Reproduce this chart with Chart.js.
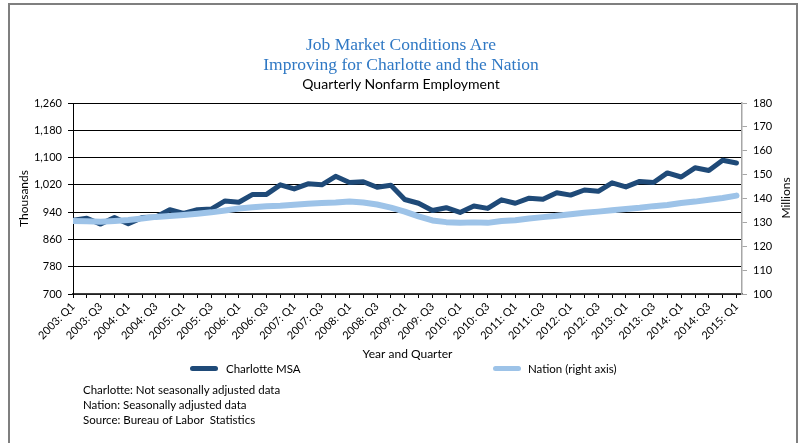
<!DOCTYPE html>
<html><head><meta charset="utf-8">
<script src="https://cdn.jsdelivr.net/npm/chart.js@4.4.1/dist/chart.umd.min.js"></script>
<style>
html,body{margin:0;padding:0;background:#fff;}
#wrap{position:relative;width:802px;height:443px;overflow:hidden;background:#fff;}
#frame{position:absolute;left:8px;top:3px;width:790px;height:470px;border:2px solid #7f7f7f;border-bottom:none;box-sizing:border-box;}
#c{position:absolute;left:0;top:0;}
.title{position:absolute;left:0;width:802px;text-align:center;font-family:"Liberation Serif",serif;color:#2f78c4;font-size:17.5px;line-height:20px;white-space:nowrap;}
.sub{position:absolute;left:0;width:802px;text-align:center;font-family:Lato,sans-serif;color:#000;font-size:14px;line-height:18px;}
.lab{position:absolute;font-family:Lato,sans-serif;color:#000;font-size:11.5px;line-height:16px;white-space:nowrap;}
.sw{position:absolute;height:5px;border-radius:3px;}
#mil{position:absolute;left:760px;top:190px;width:52px;text-align:center;transform:rotate(-90deg);font-family:Lato,sans-serif;font-size:12px;line-height:16px;}
</style></head>
<body>
<div id="wrap">
<div id="frame"></div>
<canvas id="c" width="802" height="443"></canvas>
<div class="title" style="top:34px">Job Market Conditions Are</div>
<div class="title" style="top:54px">Improving for Charlotte and the Nation</div>
<div class="sub" style="top:75px">Quarterly Nonfarm Employment</div>
<div id="mil">Millions</div>
<div id="legend"></div>
<div class="lab" style="left:83px;top:382px">Charlotte: Not seasonally adjusted data</div>
<div class="lab" style="left:83px;top:397px">Nation: Seasonally adjusted data</div>
<div class="lab" style="left:83px;top:412px">Source: Bureau of Labor&nbsp; Statistics</div>
</div>
<script>
const quarters = ["2003: Q1","2003: Q2","2003: Q3","2003: Q4","2004: Q1","2004: Q2","2004: Q3","2004: Q4",
"2005: Q1","2005: Q2","2005: Q3","2005: Q4","2006: Q1","2006: Q2","2006: Q3","2006: Q4",
"2007: Q1","2007: Q2","2007: Q3","2007: Q4","2008: Q1","2008: Q2","2008: Q3","2008: Q4",
"2009: Q1","2009: Q2","2009: Q3","2009: Q4","2010: Q1","2010: Q2","2010: Q3","2010: Q4",
"2011: Q1","2011: Q2","2011: Q3","2011: Q4","2012: Q1","2012: Q2","2012: Q3","2012: Q4",
"2013: Q1","2013: Q2","2013: Q3","2013: Q4","2014: Q1","2014: Q2","2014: Q3","2014: Q4","2015: Q1"];
const charlotte = [916,922,905,924,906,924,926,947,936,947,949,973,969,992,992,1020,1008,1023,1020,1045,1027,1029,1013,1019,
977,966,945,953,939,958,951,976,966,981,978,997,990,1005,1001,1026,1014,1030,1027,1055,1043,1070,1062,1092,1084];
const nation = [130.6,130.5,130.3,130.6,131.0,131.6,132.3,132.7,133.1,133.6,134.2,135.0,135.8,136.3,136.8,137.0,137.4,137.8,
138.1,138.3,138.7,138.3,137.5,136.2,134.5,132.5,130.8,130.1,129.8,130.0,129.8,130.6,130.9,131.6,132.2,132.8,133.4,134.0,
134.5,135.1,135.6,136.1,136.8,137.3,138.1,138.7,139.5,140.2,141.2];
const leftTicks = [700,780,860,940,1020,1100,1180,1260];
const rightTicks = [100,110,120,130,140,150,160,170,180];
const seriesNames = ["Charlotte MSA","Nation (right axis)"];
const seriesColors = ["#1f4a78","#9dc3e8"];

const font = {family:"Lato, sans-serif", size:11};
const chart = new Chart(document.getElementById('c'), {
  type:'line',
  data:{datasets:[
    {label:seriesNames[0], data:charlotte.map((v,i)=>({x:i,y:v})), yAxisID:'y', borderColor:seriesColors[0], borderWidth:5, pointRadius:0, tension:0, order:1, borderJoinStyle:'round', borderCapStyle:'round'},
    {label:seriesNames[1], data:nation.map((v,i)=>({x:i,y:v})), yAxisID:'y2', borderColor:seriesColors[1], borderWidth:6, pointRadius:0, tension:0, order:0, borderJoinStyle:'round', borderCapStyle:'round'}
  ]},
  options:{
    responsive:false, animation:false, devicePixelRatio:1,
    layout:{padding:{left:14,right:2,top:103,bottom:82}},
    plugins:{legend:{display:false},title:{display:false},tooltip:{enabled:false}},
    scales:{
      x:{type:'linear', min:0, max:48.4,
        afterBuildTicks:(s)=>{s.ticks=quarters.map((q,i)=>({value:i}));},
        afterFit:(s)=>{s.height=67;},
        ticks:{autoSkip:false, includeBounds:false, minRotation:45, maxRotation:45, padding:2, color:'#000', font:font,
          callback:(v)=> (v%2===0 ? quarters[v] : '')},
        grid:{drawOnChartArea:false, color:'#000', tickLength:4, lineWidth:1},
        border:{color:'#404040', width:1.5},
        title:{display:true, text:'Year and Quarter', color:'#000', font:{family:"Lato, sans-serif", size:12}, padding:{top:0,bottom:0}}
      },
      y:{position:'left', min:700, max:1260,
        afterBuildTicks:(s)=>{s.ticks=leftTicks.map(v=>({value:v}));},
        afterFit:(s)=>{s.width=59;},
        ticks:{color:'#000', font:font, padding:6, callback:(v)=>v.toLocaleString('en-US')},
        grid:{color:'#000', lineWidth:1, tickLength:5},
        border:{color:'#000', width:1},
        title:{display:true, text:'Thousands', color:'#000', font:{family:"Lato, sans-serif", size:12}, padding:{top:3,bottom:0}}
      },
      y2:{position:'right', min:100, max:180,
        afterBuildTicks:(s)=>{s.ticks=rightTicks.map(v=>({value:v}));},
        afterFit:(s)=>{s.width=58;},
        ticks:{color:'#000', font:font, padding:6},
        grid:{drawOnChartArea:false, color:'#a6a6a6', tickLength:5},
        border:{color:'#a6a6a6', width:1.5}
      }
    }
  }
});

// legend built from the series
const legendPos = [{sw:190, tx:226},{sw:493, tx:528}];
const lg = document.getElementById('legend');
seriesNames.forEach((n,i)=>{
  const s=document.createElement('div'); s.className='sw';
  s.style.cssText=`left:${legendPos[i].sw}px;top:366px;width:28px;background:${seriesColors[i]}`;
  lg.appendChild(s);
  const t=document.createElement('div'); t.className='lab'; t.textContent=n;
  t.style.cssText=`left:${legendPos[i].tx}px;top:361px`;
  lg.appendChild(t);
});
</script>
</body></html>
